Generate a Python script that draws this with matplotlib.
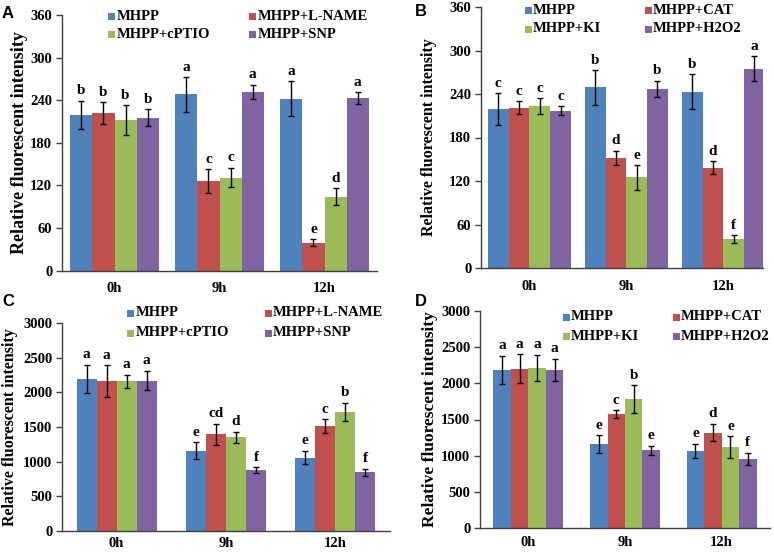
import matplotlib
matplotlib.use("Agg")
import matplotlib.pyplot as plt
from matplotlib.patches import Rectangle

W, H = 774, 554
fig = plt.figure(figsize=(W / 100, H / 100), dpi=100)

SERIF = "Liberation Serif"
SANS = "Liberation Sans"
COLORS = ["#4F81BD", "#C0504D", "#9BBB59", "#8064A2"]

times = ["0h", "9h", "12h"]

# ---- Panel A ----
a_labels = ["MHPP", "MHPP+L-NAME", "MHPP+cPTIO", "MHPP+SNP"]
a_vals = [[219, 248, 242], [222, 126, 39], [212, 131, 104], [215, 252, 243]]
a_errs = [[20, 24, 25], [15, 17, 5], [21, 14, 12], [12, 10, 8]]
a_sig = [["b", "a", "a"], ["b", "c", "e"], ["b", "c", "d"], ["b", "a", "a"]]

# ---- Panel B ----
b_labels = ["MHPP", "MHPP+CAT", "MHPP+KI", "MHPP+H2O2"]
b_vals = [[219, 249, 243], [221, 152, 138], [223, 125, 40], [217, 247, 275]]
b_errs = [[22, 24, 24], [9, 10, 9], [11, 17, 5], [6, 11, 17]]
b_sig = [["c", "b", "b"], ["c", "d", "d"], ["c", "e", "f"], ["c", "b", "a"]]

# ---- Panel C ----
c_labels = ["MHPP", "MHPP+L-NAME", "MHPP+cPTIO", "MHPP+SNP"]
c_vals = [[2190, 1160, 1060], [2160, 1395, 1515], [2158, 1352, 1717], [2170, 880, 848]]
c_errs = [[205, 120, 98], [232, 150, 100], [95, 78, 135], [143, 40, 50]]
c_sig = [["a", "e", "e"], ["a", "cd", "c"], ["a", "d", "b"], ["a", "f", "f"]]

# ---- Panel D ----
d_labels = ["MHPP", "MHPP+CAT", "MHPP+KI", "MHPP+H2O2"]
d_vals = [[2185, 1160, 1068], [2205, 1578, 1320], [2214, 1780, 1118], [2185, 1078, 958]]
d_errs = [[197, 125, 95], [198, 52, 122], [180, 193, 148], [152, 62, 82]]
d_sig = [["a", "e", "e"], ["a", "c", "d"], ["a", "b", "e"], ["a", "e", "f"]]


def add_ax(left, right, top, bottom):
    return fig.add_axes([left / W, 1 - bottom / H, (right - left) / W, (bottom - top) / H])


def draw_panel(box, xlim, width, ylim, yticks, vals, errs, sig, labels,
               letter, letter_xy, leg_x, leg_y, ylab_x, ylab_size, xpad):
    left, right, top, bottom = box
    ax = add_ax(left, right, top, bottom)
    n = len(vals)
    for i in range(n):
        xs = [j + (i - (n - 1) / 2) * width for j in range(len(times))]
        ax.bar(xs, vals[i], width=width, color=COLORS[i], edgecolor="none", zorder=2)
        ax.errorbar(xs, vals[i], yerr=errs[i], fmt="none", ecolor="black",
                    elinewidth=1.0, capsize=2.5, capthick=1.0, zorder=3)
        for x, v, e, s in zip(xs, vals[i], errs[i], sig[i]):
            ax.annotate(s, (x, v + e), xytext=(0, 2.5), textcoords="offset points",
                        ha="center", va="bottom", fontsize=11, fontweight="bold",
                        family=SERIF)
    ax.set_xlim(*xlim)
    ax.set_ylim(*ylim)
    ax.set_yticks(yticks)
    ax.set_xticks(range(len(times)))
    ax.set_xticklabels(times)
    for sp in ["top", "right"]:
        ax.spines[sp].set_visible(False)
    for sp in ["left", "bottom"]:
        ax.spines[sp].set_color("#404040")
        ax.spines[sp].set_linewidth(1.0)
    ax.tick_params(axis="x", length=0, pad=xpad)
    ax.tick_params(axis="y", length=4, width=1.0, color="#404040", pad=3)
    for t in ax.get_xticklabels() + ax.get_yticklabels():
        t.set_fontfamily(SERIF)
        t.set_fontweight("bold")
        t.set_fontsize(10.5)
    ax.set_ylabel("Relative fluorescent intensity", family=SERIF, fontweight="bold",
                  fontsize=ylab_size)
    ax.yaxis.set_label_coords((ylab_x - left) / (right - left), 0.5)
    fig.text(letter_xy[0] / W, 1 - letter_xy[1] / H, letter, family=SANS,
             fontweight="bold", fontsize=12, ha="center", va="center")
    # legend (2 columns x 2 rows)
    for i, lab in enumerate(labels):
        cx = leg_x[i % 2]
        cy = leg_y[i // 2]
        sq = 7
        fig.patches.append(Rectangle(((cx - sq / 2) / W, 1 - (cy + sq / 2) / H),
                                     sq / W, sq / H, transform=fig.transFigure,
                                     facecolor=COLORS[i], edgecolor="none"))
        fig.text((cx + sq / 2 + 1) / W, 1 - cy / H, lab, family=SERIF,
                 fontweight="bold", fontsize=10.5, ha="left", va="center")
    return ax


draw_panel((62, 377, 15, 270.5), (-0.5, 2.5), 0.21, (0, 360), range(0, 361, 60),
           a_vals, a_errs, a_sig, a_labels, "A", (8, 13), (112, 253), (16, 34), 28, 13, 8)
draw_panel((481, 763, 7, 268), (-0.5, 2.41), 0.214, (0, 360), range(0, 361, 60),
           b_vals, b_errs, b_sig, b_labels, "B", (421, 11), (528, 648), (10, 29), 437, 11.5, 9)
draw_panel((62, 390, 323, 531), (-0.5, 2.5), 0.183, (0, 3000), range(0, 3001, 500),
           c_vals, c_errs, c_sig, c_labels, "C", (8, 301), (131, 268), (313, 333), 18, 11.5, 4)
draw_panel((480, 770, 311, 528), (-0.5, 2.5), 0.181, (0, 3000), range(0, 3001, 500),
           d_vals, d_errs, d_sig, d_labels, "D", (421, 301), (566, 676), (317, 336), 438, 12.5, 6)

fig.savefig("out.png", dpi=100)
